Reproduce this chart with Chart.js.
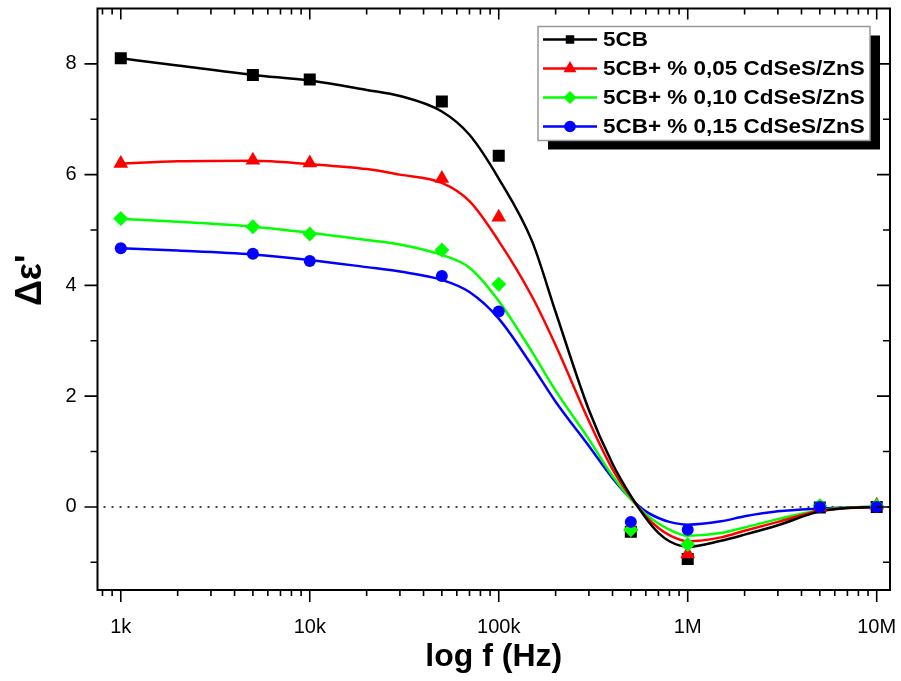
<!DOCTYPE html>
<html>
<head>
<meta charset="UTF-8">
<title>Delta epsilon vs log f</title>
<script src="https://cdn.jsdelivr.net/npm/chart.js"></script>
<style>
  html, body { margin: 0; padding: 0; background: #fff; }
  #wrap { width: 901px; height: 681px; }
</style>
</head>
<body>
<div id="wrap"><canvas id="chart" width="901" height="681"></canvas></div>
<script>
// measured points
const freqs = [1e3, 5e3, 1e4, 5e4, 1e5, 5e5, 1e6, 5e6, 1e7];
const pure5CB = [8.10, 7.80, 7.72, 7.32, 6.34, -0.45, -0.94, -0.01, 0.00];
const cds005  = [6.20, 6.26, 6.21, 5.93, 5.23, -0.36, -0.85, 0.00, 0.03];
const cds010  = [5.21, 5.06, 4.93, 4.64, 4.02, -0.41, -0.68, 0.02, 0.02];
const cds015  = [4.67, 4.57, 4.44, 4.17, 3.53, -0.27, -0.41, 0.00, 0.00];

// fitted curves
const fitFreqs = [1e3, 2e3, 5e3, 1e4, 2e4, 3e4, 5e4, 7e4, 1e5, 1.5e5, 2e5, 3e5, 4e5, 5e5, 6e5, 7e5, 8e5, 1e6, 1.5e6, 2e6, 3e6, 5e6, 7e6, 1e7];
const fit5CB = [8.10, 7.97, 7.80, 7.70, 7.53, 7.42, 7.14, 6.72, 5.93, 4.80, 3.52, 1.75, 0.78, 0.20, -0.20, -0.47, -0.62, -0.72, -0.61, -0.50, -0.33, -0.08, -0.02, 0.00];
const fit005 = [6.20, 6.24, 6.25, 6.19, 6.10, 6.00, 5.85, 5.52, 4.80, 3.80, 2.92, 1.55, 0.68, 0.18, -0.17, -0.38, -0.51, -0.62, -0.55, -0.43, -0.27, -0.07, -0.02, 0.00];
const fit010 = [5.20, 5.15, 5.06, 4.95, 4.82, 4.74, 4.55, 4.32, 3.72, 2.80, 2.10, 1.22, 0.56, 0.14, -0.13, -0.30, -0.41, -0.52, -0.47, -0.37, -0.22, -0.06, -0.01, 0.00];
const fit015 = [4.67, 4.63, 4.56, 4.46, 4.33, 4.25, 4.10, 3.88, 3.40, 2.55, 1.90, 1.10, 0.52, 0.15, -0.08, -0.20, -0.27, -0.32, -0.26, -0.17, -0.08, -0.03, -0.01, 0.00];

const seriesNames = ['5CB', '5CB+ % 0,05 CdSeS/ZnS', '5CB+ % 0,10 CdSeS/ZnS', '5CB+ % 0,15 CdSeS/ZnS'];
const seriesColors = ['#000000', '#ff0000', '#00ff00', '#0000ff'];
const seriesStyles = ['rect', 'triangle', 'rectRot', 'circle'];
const seriesRadius = [8.5, 8.5, 7.5, 6];
const legendRadius = [6, 7.5, 6.5, 5.8];

const xTickValues = [1e3, 1e4, 1e5, 1e6, 1e7];
const xTickLabels = ['1k', '10k', '100k', '1M', '10M'];
const yTickValues = [0, 2, 4, 6, 8];
const yMinorValues = [-1, 1, 3, 5, 7];

const FONT = '"Liberation Sans", Arial, sans-serif';

function pts(xs, ys) { return xs.map((x, i) => ({x: x, y: ys[i]})); }

const pointSets = [pure5CB, cds005, cds010, cds015];
const fitSets = [fit5CB, fit005, fit010, fit015];

var datasets = [];
fitSets.forEach((s, i) => {
    datasets.push({
        label: seriesNames[i] + ' fit',
        data: pts(fitFreqs, s),
        borderColor: seriesColors[i],
        borderWidth: 2.5,
        pointRadius: 0,
        fill: false,
        cubicInterpolationMode: 'monotone',
        order: 10
    });
});
pointSets.forEach((s, i) => {
    datasets.push({
        label: seriesNames[i],
        data: pts(freqs, s),
        showLine: false,
        pointStyle: seriesStyles[i],
        pointRadius: seriesRadius[i],
        pointBackgroundColor: seriesColors[i],
        pointBorderColor: seriesColors[i],
        pointBorderWidth: 0,
        order: 4 - i
    });
});

// no extra room around the scales, the frame sits where the picture has it
function noPad(s) {
    s.paddingTop = 0; s.paddingBottom = 0; s.paddingLeft = 0; s.paddingRight = 0;
}

// dotted zero line
const zeroLine = {
    id: 'zeroLine',
    beforeDatasetsDraw(chart) {
        const {ctx, chartArea: a, scales: {y}} = chart;
        const py = y.getPixelForValue(0);
        ctx.save();
        ctx.strokeStyle = '#444';
        ctx.lineWidth = 2;
        ctx.setLineDash([2, 6]);
        ctx.beginPath();
        ctx.moveTo(a.left + 6, py);
        ctx.lineTo(a.right, py);
        ctx.stroke();
        ctx.restore();
    }
};

// frame + ticks (out on bottom/left, in on top/right)
const frameTicks = {
    id: 'frameTicks',
    afterDraw(chart) {
        const {ctx, chartArea: a, scales: {x, y}} = chart;
        ctx.save();
        ctx.strokeStyle = '#000';
        ctx.lineWidth = 1.6;
        ctx.beginPath();
        const xMinor = [];
        for (let e = 2; e <= 7; e++) {
            for (let m = 2; m <= 9; m++) xMinor.push(m * Math.pow(10, e));
        }
        xMinor.forEach(v => {
            if (v < x.min || v > x.max) return;
            const px = x.getPixelForValue(v);
            ctx.moveTo(px, a.bottom); ctx.lineTo(px, a.bottom + 6);
            ctx.moveTo(px, a.top); ctx.lineTo(px, a.top + 6);
        });
        xTickValues.forEach(v => {
            const px = x.getPixelForValue(v);
            ctx.moveTo(px, a.bottom); ctx.lineTo(px, a.bottom + 12);
            ctx.moveTo(px, a.top); ctx.lineTo(px, a.top + 11);
        });
        yTickValues.forEach(v => {
            const py = y.getPixelForValue(v);
            ctx.moveTo(a.left, py); ctx.lineTo(a.left - 13, py);
            ctx.moveTo(a.right, py); ctx.lineTo(a.right - 13, py);
        });
        yMinorValues.forEach(v => {
            const py = y.getPixelForValue(v);
            ctx.moveTo(a.left, py); ctx.lineTo(a.left - 7, py);
            ctx.moveTo(a.right, py); ctx.lineTo(a.right - 7, py);
        });
        ctx.stroke();
        ctx.lineWidth = 2;
        ctx.strokeRect(a.left, a.top, a.right - a.left, a.bottom - a.top);

        // y axis title
        ctx.fillStyle = '#000';
        ctx.font = 'bold 36px ' + FONT;
        ctx.textAlign = 'center';
        ctx.textBaseline = 'middle';
        ctx.translate(a.left - 66, (a.top + a.bottom) / 2 - 19);
        ctx.rotate(-Math.PI / 2);
        ctx.fillText("\u0394\u03b5'", 0, 0);
        ctx.restore();
    }
};

// legend box with shadow inside the plot
const boxLegend = {
    id: 'boxLegend',
    afterDraw(chart) {
        const {ctx, chartArea: a} = chart;
        const w = 332, h = 114;
        const right = a.right - 20, top = a.top + 18, left = right - w;
        ctx.save();
        ctx.fillStyle = '#000';
        ctx.fillRect(left + 10, top + 9, w, h);
        ctx.fillStyle = '#fff';
        ctx.fillRect(left, top, w, h);
        ctx.strokeStyle = '#999';
        ctx.lineWidth = 1.5;
        ctx.strokeRect(left, top, w, h);
        seriesNames.forEach((name, i) => {
            const cy = top + 13 + i * 29;
            ctx.strokeStyle = seriesColors[i];
            ctx.lineWidth = 2.5;
            ctx.beginPath();
            ctx.moveTo(left + 5, cy);
            ctx.lineTo(left + 59, cy);
            ctx.stroke();
            ctx.fillStyle = seriesColors[i];
            if (Chart.helpers && Chart.helpers.drawPoint) {
                Chart.helpers.drawPoint(ctx, {pointStyle: seriesStyles[i], radius: legendRadius[i], rotation: 0, borderWidth: 0}, left + 32, cy);
            }
            ctx.fillStyle = '#000';
            ctx.font = 'bold 21px ' + FONT;
            ctx.textAlign = 'left';
            ctx.textBaseline = 'middle';
            ctx.save();
            ctx.translate(left + 65, cy + 1);
            ctx.scale(1.07, 1);
            ctx.fillText(name, 0, 0);
            ctx.restore();
        });
        ctx.restore();
    }
};

new Chart(document.getElementById('chart'), {
    type: 'line',
    data: { datasets: datasets },
    options: {
        responsive: false,
        animation: false,
        devicePixelRatio: 1,
        layout: { padding: { top: 5, right: 11, left: 0, bottom: 0 } },
        plugins: {
            legend: { display: false },
            tooltip: { enabled: false }
        },
        scales: {
            x: {
                type: 'logarithmic',
                min: 753,
                max: 11.76e6,
                grid: { display: false },
                border: { display: false },
                afterBuildTicks: s => { s.ticks = xTickValues.map(v => ({value: v})); },
                afterFit: s => { s.height = 91; noPad(s); },
                ticks: {
                    autoSkip: false,
                    maxRotation: 0,
                    padding: 17,
                    color: '#000',
                    font: { family: FONT, size: 20 },
                    callback: (v, i) => xTickLabels[i]
                },
                title: {
                    display: true,
                    text: 'log f (Hz)',
                    color: '#000',
                    font: { family: FONT, size: 32, weight: 'bold' },
                    padding: { top: 0, bottom: 5 }
                }
            },
            y: {
                type: 'linear',
                min: -1.5,
                max: 9,
                grid: { display: false },
                border: { display: false },
                afterBuildTicks: s => { s.ticks = yTickValues.map(v => ({value: v})); },
                afterFit: s => { s.width = 97.5; noPad(s); },
                ticks: {
                    padding: 13,
                    color: '#000',
                    font: { family: FONT, size: 20 }
                }
            }
        }
    },
    plugins: [zeroLine, frameTicks, boxLegend]
});
</script>
</body>
</html>
